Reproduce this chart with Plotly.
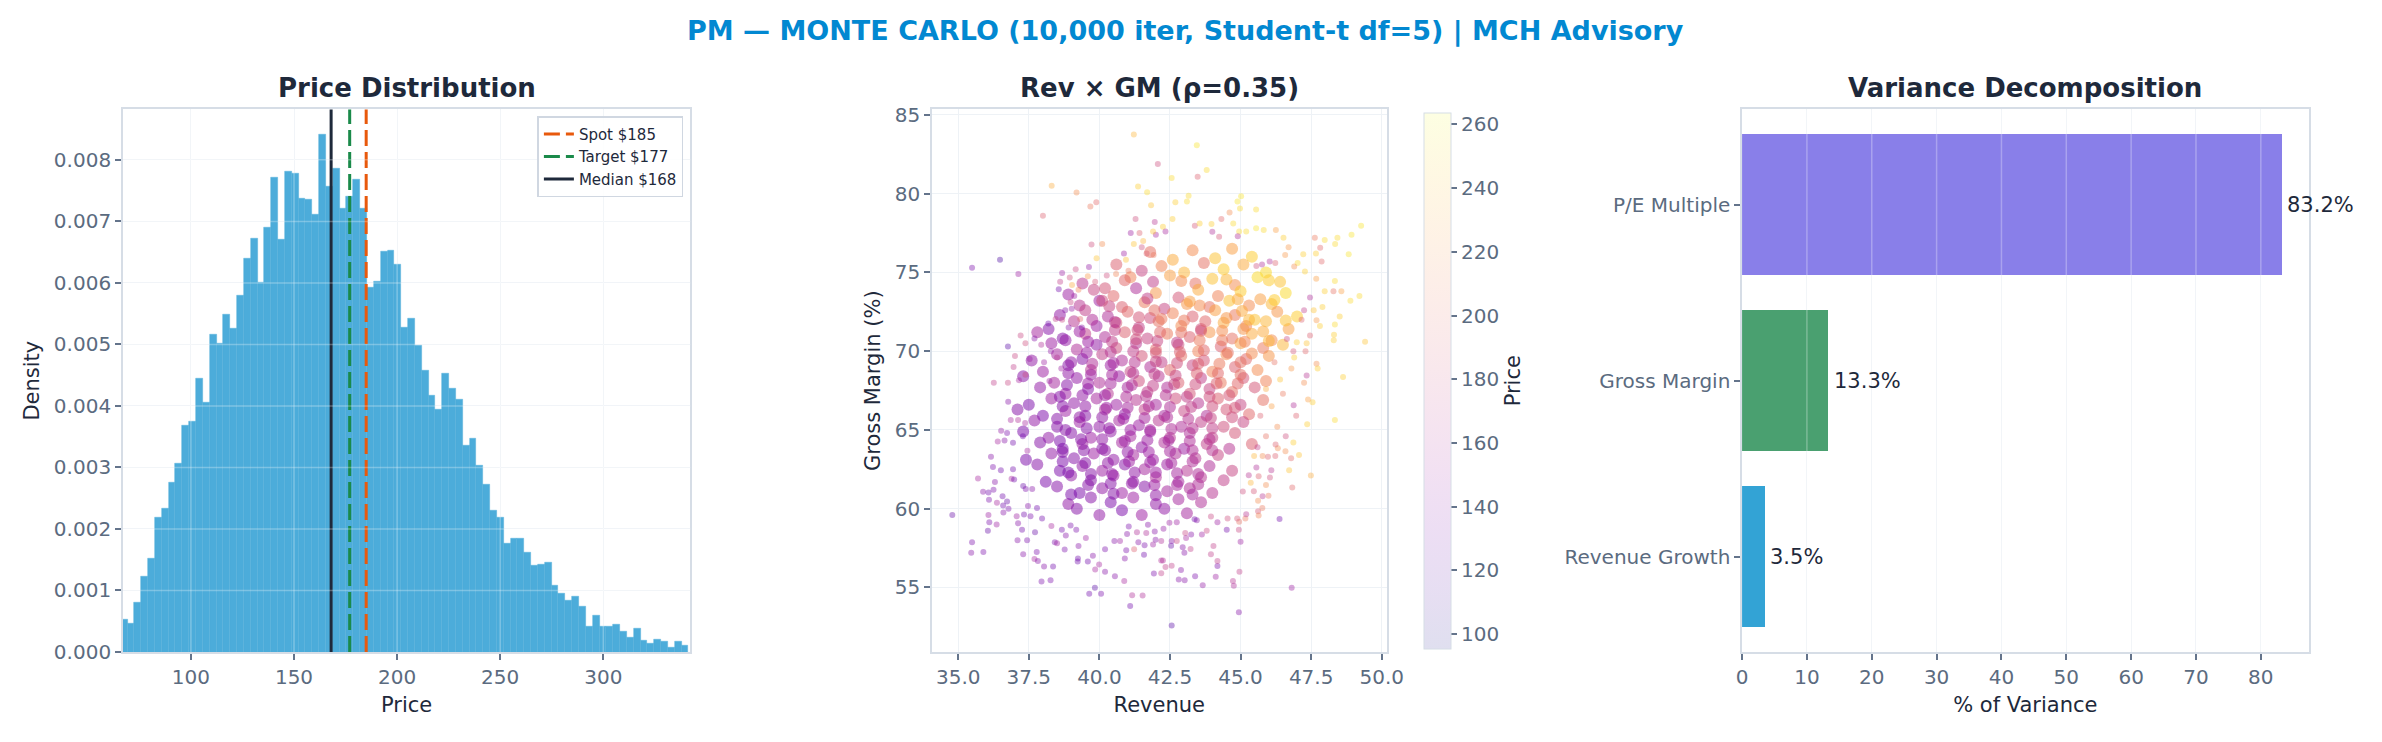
import plotly.graph_objects as go
import plotly.express as px

W, H = 2382, 742

# ---------------- price histogram (density per bin) ----------------
bin_start = 65.91   # left edge of first bin
bin_width = 3.317
density = [
    0.00053, 0.00047, 0.00080, 0.00122, 0.00152, 0.00219, 0.00233, 0.00276, 0.00306, 0.00368,
    0.00374, 0.00444, 0.00405, 0.00516, 0.00501, 0.00549, 0.00526, 0.00579, 0.00640, 0.00673,
    0.00600, 0.00690, 0.00771, 0.00670, 0.00781, 0.00778, 0.00738, 0.00735, 0.00711, 0.00841,
    0.00757, 0.00786, 0.00721, 0.00741, 0.00768, 0.00721, 0.00593, 0.00602, 0.00651, 0.00653,
    0.00630, 0.00528, 0.00543, 0.00498, 0.00458, 0.00417, 0.00394, 0.00452, 0.00428, 0.00411,
    0.00336, 0.00347, 0.00303, 0.00273, 0.00230, 0.00219, 0.00176, 0.00185, 0.00185, 0.00162,
    0.00141, 0.00143, 0.00146, 0.00108, 0.00095, 0.00083, 0.00090, 0.00074, 0.00041, 0.00060,
    0.00041, 0.00041, 0.00044, 0.00033, 0.00023, 0.00038, 0.00018, 0.00014, 0.00020, 0.00017,
    0.00008, 0.00017, 0.00011,
]
price_xlim = [67.0, 342.2]

ref_names = ["Spot $185", "Target $177", "Median $168"]
ref_values = [185, 177, 168]
ref_colors = ["#e8590c", "#1a8a4a", "#1e293b"]
ref_dash = ["16px,6px", "16px,6px", "solid"]

# ---------------- revenue x gross margin scatter (subset) ----------------
# sparse outskirts
revenue_outer = [
    41.22, 42.07, 38.31, 39.19, 39.89, 39.68, 38.0, 41.37, 41.69, 41.83,
    41.28, 41.96, 41.11, 41.42, 42.0, 41.9, 39.72, 40.1, 39.9, 35.49,
    36.48, 37.13, 39.63, 39.16, 38.68, 38.95, 38.61, 38.56, 39.03, 39.26,
    39.59, 39.85, 40.26, 40.59, 40.87, 40.94, 41.03, 41.22, 41.55, 41.5,
    41.67, 41.92, 38.98, 39.11, 38.79, 38.45, 38.19, 38.68, 39.02, 39.32,
    39.38, 38.91, 37.21, 37.70, 37.38, 37.94, 36.76, 37.01, 36.96, 37.38,
    37.53, 36.26, 36.76, 37.15, 38.28, 38.04, 38.5, 38.65, 38.23,
    43.45, 43.48, 43.8, 42.56, 43.16, 42.69, 43.1, 45.02, 44.89, 45.55,
    44.61, 44.32, 44.98, 42.59, 42.25, 42.34, 43.38, 43.55, 43.97, 44.0,
    44.74, 44.95, 44.9, 44.24, 45.2, 45.55, 45.82, 46.25, 46.52, 46.7,
    47.63, 47.98, 48.43, 48.93, 49.27, 47.82, 47.87, 47.67, 48.35, 48.83,
    47.22, 47.02, 46.9, 46.58, 46.23, 46.03, 45.56, 45.76, 47.28, 47.68,
    48.34, 48.57, 48.29, 47.98, 48.89, 49.21, 47.46, 47.25, 47.59, 47.9,
    48.51, 47.16, 47.69, 47.81, 48.34, 48.31, 48.3, 49.41, 47.46, 47.34,
    46.99, 47.3, 46.64, 46.87, 47.69, 47.73, 48.63, 47.34, 47.25,
    48.34, 47.49, 46.83, 46.72, 47.07, 46.79, 46.59, 46.87, 47.36, 47.55,
    47.39, 46.97, 46.88, 46.38, 46.81, 44.94, 42.56, 44.73, 44.76, 44.96,
    43.66, 43.39, 42.81, 43.02, 44.12, 44.18, 44.18, 43.95, 44.04, 45.0,
    42.89, 42.56, 42.34, 42.19, 42.25, 43.01, 43.23, 42.95, 42.54, 42.56,
    42.74, 44.94, 44.51, 44.95, 45.17, 44.88, 45.2, 45.62, 45.77, 45.64,
    43.63, 43.8, 44.18, 44.54, 43.45, 43.37, 43.95, 43.04, 43.07, 43.25,
    42.74, 42.27, 42.48, 45.08, 45.47, 45.78, 45.62, 46.04, 46.09, 45.99,
    45.56, 45.64, 45.9, 45.36, 45.29, 45.48, 45.78, 46.23, 45.97, 46.32,
    46.24, 45.9, 46.3, 45.7, 46.1, 46.5, 45.9, 46.4, 46.8, 46.2,
    46.9, 46.6, 45.6,
    34.79, 35.46, 35.49, 35.89, 36.05, 36.1, 36.07, 36.36, 35.7, 35.88,
    36.07, 36.25, 36.09, 36.3, 36.4, 36.52, 36.64, 36.73, 36.16, 36.23,
    36.51, 36.37, 36.57, 36.59, 36.73, 36.78, 36.6, 36.77, 36.86, 37.12,
    37.37, 37.29, 37.45, 36.94, 36.94, 36.89, 36.98, 37.3, 37.39, 37.62,
    37.47, 37.33, 37.56, 37.07, 37.12, 37.26, 37.1, 37.44, 37.3, 37.7,
    37.82, 37.78, 38.04, 38.36, 37.95, 38.27, 37.79, 37.72, 37.97, 38.3,
    38.42, 38.5, 38.77, 38.67, 38.81, 38.98, 39.18, 39.24, 39.23, 39.59,
    39.26, 39.52, 39.77, 39.99, 39.85, 40.2, 40.55, 40.88, 39.84, 39.64,
    40.06, 41.09, 41.16, 41.53, 40.2, 40.53, 40.73, 40.9, 40.95, 41.23,
    41.38, 41.58, 41.6, 41.9, 41.93, 42.19, 41.99, 42.19, 41.33, 40.98,
    41.04, 41.66, 41.72, 41.96,
]
gm_outer = [
    83.76, 81.89, 80.5, 80.07, 79.45, 79.19, 78.6, 80.46, 80.09, 79.27,
    78.4, 78.2, 77.5, 77.5, 77.4, 77.6, 76.77, 76.8, 75.9, 75.3,
    75.8, 74.9, 75.35, 75.2, 74.96, 74.67, 74.4, 73.93, 74.2, 73.9,
    74.75, 74.4, 74.8, 74.9, 76.2, 75.8, 75.1, 76.8, 77.0, 76.6,
    76.2, 76.1, 73.1, 73.5, 72.6, 72.05, 71.76, 72.0, 72.7, 72.05,
    71.5, 71.5, 71.0, 70.8, 70.5, 70.4, 70.3, 69.7, 69.0, 68.5,
    69.5, 68.0, 68.0, 68.16, 70.0, 69.3, 69.6, 68.9, 68.1,
    83.08, 81.08, 81.5, 81.0, 79.87, 79.45, 79.5, 79.84, 79.5, 79.0,
    78.8, 78.4, 79.06, 78.4, 77.9, 77.6, 77.97, 78.1, 78.07, 77.58,
    78.1, 77.6, 77.3, 77.27, 77.6, 77.8, 77.7, 77.7, 77.2, 76.6,
    77.2, 77.06, 77.2, 77.4, 77.97, 76.57, 75.7, 76.2, 76.8, 76.15,
    76.15, 75.6, 75.37, 76.1, 75.6, 75.7, 75.4, 75.5, 75.06, 74.6,
    74.45, 73.8, 73.8, 73.8, 73.2, 73.5, 73.4, 72.6, 72.6, 72.8,
    72.2, 72.0, 71.97, 71.6, 71.7, 71.04, 70.7, 70.6, 71.0, 70.5,
    70.57, 70.0, 70.77, 70.0, 69.2, 68.9, 68.36, 68.46, 68.0,
    65.63, 62.1, 61.34, 62.43, 63.4, 63.2, 63.65, 64.2, 65.36, 66.76,
    66.93, 65.9, 66.56, 59.34, 54.97, 53.42, 52.58, 55.4, 55.1, 56.0,
    55.13, 55.7, 55.5, 55.46, 55.67, 56.35, 56.68, 57.11, 57.63, 57.9,
    56.1, 56.37, 56.29, 55.9, 56.7, 57.2, 57.44, 57.55, 57.65, 57.94,
    57.94, 58.66, 58.66, 59.17, 59.38, 59.38, 59.65, 59.83, 60.04, 59.57,
    58.35, 58.6, 59.13, 59.38, 59.26, 59.32, 59.5, 58.45, 58.14, 58.35,
    59.13, 58.72, 59.11, 61.09, 61.11, 60.78, 60.5, 61.98, 62.43, 60.82,
    62.62, 62.06, 61.5, 61.65, 62.12, 63.34, 63.34, 63.34, 63.3, 63.83,
    64.08, 64.6, 65.2, 65.9, 66.5, 67.3, 67.6, 68.2, 68.9, 69.3,
    69.6, 64.6, 63.9,
    59.6, 57.2, 57.87, 57.24, 58.6, 59.13, 59.59, 59.0, 61.92, 61.07,
    61.03, 61.2, 60.56, 61.69, 64.27, 64.95, 64.33, 64.8, 63.3, 62.64,
    62.43, 60.37, 60.78, 60.2, 60.45, 60.0, 59.75, 66.78, 65.63, 65.63,
    65.44, 64.6, 63.67, 64.18, 62.5, 61.9, 61.85, 61.44, 61.24, 61.24,
    60.16, 59.63, 59.52, 59.52, 59.07, 58.66, 58.0, 58.0, 57.11, 56.8,
    56.68, 57.24, 56.33, 56.33, 55.38, 55.46, 60.04, 58.5, 59.38, 58.9,
    57.87, 57.8, 57.4, 58.66, 58.29, 58.93, 58.66, 56.84, 56.64, 56.64,
    57.63, 58.14, 57.01, 56.45, 56.14, 56.0, 55.71, 55.4, 54.97, 54.6,
    54.6, 53.82, 54.5, 54.48, 57.42, 57.94, 57.94, 56.84, 57.36, 57.42,
    57.87, 57.07, 57.67, 57.73, 55.88, 56.7, 58.02, 57.94, 58.5, 58.39,
    58.86, 58.45, 58.97, 58.55,
]
price_outer = [
    235, 180, 230, 215, 195, 205, 190, 245, 250, 240,
    180, 165, 150, 190, 155, 240, 180, 215, 240, 135,
    115, 150, 145, 175, 150, 180, 170, 130, 230, 210,
    220, 185, 180, 210, 150, 240, 205, 240, 235, 180,
    190, 205, 175, 150, 140, 170, 130, 175, 145, 195,
    140, 140, 175, 140, 180, 160, 120, 175, 170, 180,
    150, 170, 175, 155, 145, 150, 165, 150, 150,
    255, 190, 250, 250, 250, 245, 250, 255, 255, 250,
    215, 195, 250, 245, 245, 155, 185, 245, 245, 160,
    250, 250, 160, 185, 250, 255, 250, 225, 245, 220,
    205, 250, 250, 255, 255, 195, 195, 245, 250, 255,
    245, 250, 215, 220, 190, 160, 180, 160, 245, 225,
    250, 225, 200, 245, 250, 250, 160, 170, 240, 245,
    245, 190, 220, 245, 250, 245, 245, 240, 190, 240,
    245, 195, 175, 185, 215, 245, 245, 165, 215,
    250, 230, 195, 240, 240, 195, 215, 245, 245, 245,
    225, 190, 160, 130, 150, 140, 120, 165, 160, 170,
    145, 135, 140, 140, 150, 135, 170, 170, 170, 150,
    140, 170, 170, 170, 160, 140, 170, 140, 125, 140,
    175, 175, 130, 200, 205, 185, 165, 185, 205, 210,
    150, 175, 150, 180, 140, 130, 175, 175, 155, 140,
    150, 145, 150, 180, 185, 165, 215, 180, 165, 205,
    160, 190, 215, 235, 165, 235, 215, 190, 190, 215,
    190, 200, 215, 190, 225, 205, 230, 240, 220, 200,
    245, 180, 170,
    125, 140, 135, 135, 125, 135, 150, 150, 155, 140,
    130, 135, 135, 140, 155, 145, 140, 135, 140, 135,
    130, 155, 130, 130, 125, 135, 140, 140, 155, 160,
    155, 130, 155, 130, 130, 155, 130, 125, 135, 140,
    140, 130, 135, 150, 140, 130, 140, 135, 140, 155,
    140, 135, 140, 130, 135, 135, 130, 125, 130, 155,
    135, 150, 135, 130, 140, 135, 135, 130, 130, 130,
    140, 150, 140, 155, 155, 140, 140, 155, 120, 130,
    135, 130, 160, 160, 135, 140, 150, 140, 135, 190,
    140, 130, 135, 150, 135, 160, 140, 160, 160, 140,
    135, 160, 140, 140,
]

# dense core (each point stands for a clump of overlapping samples)
revenue_core = [
    41.8, 42.6, 43.3, 44.1, 44.7, 45.4,
    40.6, 41.5, 42.2, 43.0, 43.7, 44.4, 45.1, 45.9,
    39.4, 40.2, 41.1, 41.9, 42.5, 43.4, 44.0, 44.8, 45.6, 46.4,
    38.9, 39.8, 40.5, 41.3, 42.0, 42.8, 43.5, 44.2, 45.0, 45.7, 46.6,
    39.3, 40.0, 40.8, 41.6, 42.3, 43.1, 43.9, 44.6, 45.3, 46.1,
    38.6, 39.5, 40.3, 41.0, 41.8, 42.6, 43.3, 44.1, 44.8, 45.5, 46.3, 47.0,
    38.2, 39.1, 39.9, 40.6, 41.4, 42.1, 42.9, 43.6, 44.4, 45.2, 45.9, 46.7,
    37.8, 38.7, 39.5, 40.2, 40.9, 41.7, 42.4, 43.2, 43.9, 44.7, 45.4, 46.1,
    38.3, 39.2, 39.9, 40.6, 41.3, 42.0, 42.8, 43.5, 44.3, 45.0, 45.8, 46.5,
    37.6, 38.5, 39.4, 40.1, 40.8, 41.5, 42.2, 42.9, 43.7, 44.5, 45.2, 46.0,
    38.0, 38.9, 39.7, 40.4, 41.1, 41.8, 42.5, 43.3, 44.0, 44.8, 45.6,
    37.3, 38.4, 39.2, 40.0, 40.7, 41.4, 42.1, 42.8, 43.6, 44.3, 45.1, 45.9,
    37.9, 38.8, 39.6, 40.3, 41.0, 41.7, 42.4, 43.2, 43.9, 44.7, 45.5,
    37.5, 38.3, 39.1, 39.9, 40.6, 41.3, 42.0, 42.7, 43.5, 44.2, 45.0, 45.8,
    37.1, 38.0, 38.8, 39.5, 40.2, 40.9, 41.6, 42.3, 43.0, 43.8, 44.5, 45.3,
    37.7, 38.5, 39.3, 40.0, 40.7, 41.4, 42.1, 42.9, 43.6, 44.4, 45.1,
    37.3, 38.2, 39.0, 39.7, 40.4, 41.1, 41.8, 42.5, 43.2, 44.0, 44.8,
    37.9, 38.7, 39.4, 40.1, 40.8, 41.5, 42.3, 43.0, 43.8, 44.6, 45.4,
    37.4, 38.3, 39.1, 39.8, 40.5, 41.2, 41.9, 42.7, 43.4, 44.2,
    37.8, 38.6, 39.4, 40.1, 40.9, 41.6, 42.4, 43.1, 43.9, 44.7,
    38.1, 39.0, 39.7, 40.5, 41.2, 42.0, 42.8, 43.6, 44.4,
    38.5, 39.3, 40.1, 40.8, 41.6, 42.4, 43.2, 44.0,
    38.9, 39.7, 40.4, 41.2, 42.0, 42.8, 43.6,
    39.2, 40.0, 40.8, 41.5, 42.3, 43.1,
    40.35, 41.95, 43.55, 45.05,
    39.75, 41.4, 43.0, 44.5,
    40.55, 42.15, 43.6, 45.1,
    39.6, 41.3, 42.75, 44.35,
    40.4, 42.0, 43.7, 45.4,
    39.0, 40.5, 42.0, 43.5, 45.0,
    39.7, 41.2, 42.7, 44.2,
    38.85, 40.4, 41.9, 43.4, 44.9,
    39.4, 40.95, 42.35, 43.9,
    38.7, 40.25, 41.75, 43.25, 44.8,
    39.3, 40.85, 42.4, 43.95,
    38.8, 40.35, 41.8, 43.3,
    39.35, 40.9, 42.45, 43.9,
    38.7, 40.2, 41.75, 43.3,
    39.5, 41.05, 42.55,
    38.9, 40.45, 42.0, 43.5,
    39.6, 41.15, 42.75,
    40.1, 41.7, 43.2, 44.9, 46.2,
    40.55, 42.2, 43.75, 45.3, 46.6,
    39.3, 41.35, 42.9, 44.35, 45.8,
    38.8, 40.45, 42.05, 43.55, 45.15, 46.0,
    39.55, 41.2, 42.85, 44.55,
    39.75, 41.25, 42.75, 44.25,
    38.9, 40.45, 41.95, 43.45, 45.0,
    39.6, 41.15, 42.65, 44.15,
    38.6, 40.2, 41.65, 43.1, 44.6,
    39.5, 41.0, 42.5, 44.0,
    38.5, 40.1, 41.6, 43.15, 44.7,
    39.55, 41.1, 42.55, 44.0,
    38.6, 40.1, 41.7, 43.2,
    39.45, 41.0, 42.5, 44.0,
    38.7, 40.3, 41.8, 43.3,
    39.7, 41.25, 42.75,
    40.4, 41.95, 43.5,
    39.0, 40.5, 42.0, 43.3,
    40.9, 42.9, 44.5, 46.0,
]
gm_core = [
    76.3, 75.8, 76.4, 75.9, 76.5, 76.0,
    75.5, 75.1, 75.4, 75.0, 75.6, 75.2, 75.5, 75.0,
    74.3, 74.0, 74.7, 74.4, 74.8, 74.3, 74.6, 74.2, 74.7, 74.4,
    73.6, 73.9, 73.5, 74.0, 73.7, 73.4, 73.9, 73.5, 73.8, 73.3, 73.7,
    72.9, 73.2, 72.8, 73.1, 72.7, 73.0, 72.8, 73.2, 72.9, 73.0,
    72.3, 72.6, 72.2, 72.5, 72.1, 72.4, 72.2, 72.6, 72.3, 72.0, 72.5, 72.2,
    71.4, 71.9, 71.6, 71.8, 71.5, 71.9, 71.6, 71.4, 71.8, 71.6, 71.9, 71.4,
    71.2, 70.8, 71.1, 70.9, 71.2, 70.8, 71.1, 70.9, 71.2, 70.8, 71.1, 70.7,
    70.5, 70.1, 70.4, 70.2, 70.5, 70.1, 70.4, 70.0, 70.3, 70.5, 70.2, 70.4,
    69.4, 69.8, 69.5, 69.8, 69.4, 69.7, 69.3, 69.7, 69.4, 69.8, 69.5, 69.7,
    68.7, 69.1, 68.8, 69.1, 68.7, 69.0, 68.8, 69.1, 68.7, 69.0, 68.8,
    68.4, 68.0, 68.3, 68.0, 68.4, 68.1, 68.4, 68.0, 68.3, 68.0, 68.3, 68.1,
    67.7, 67.3, 67.6, 67.3, 67.7, 67.4, 67.7, 67.3, 67.6, 67.4, 67.7,
    66.6, 67.0, 66.7, 67.0, 66.6, 66.9, 66.6, 67.0, 66.7, 67.0, 66.6, 66.9,
    66.3, 65.9, 66.2, 65.9, 66.3, 66.0, 66.3, 65.9, 66.2, 65.9, 66.3, 66.0,
    65.6, 65.2, 65.5, 65.2, 65.6, 65.3, 65.6, 65.2, 65.5, 65.2, 65.5,
    64.9, 64.5, 64.8, 64.5, 64.9, 64.6, 64.9, 64.5, 64.8, 64.5, 64.8,
    64.2, 63.8, 64.1, 63.8, 64.2, 63.9, 64.2, 63.8, 64.1, 63.8, 64.1,
    63.1, 63.5, 63.2, 63.5, 63.1, 63.4, 63.1, 63.5, 63.2, 63.4,
    62.8, 62.4, 62.7, 62.4, 62.8, 62.5, 62.8, 62.4, 62.7, 62.4,
    61.7, 62.1, 61.8, 62.1, 61.7, 62.0, 61.7, 62.0, 61.8,
    61.4, 61.0, 61.3, 61.0, 61.4, 61.1, 61.3, 61.0,
    60.3, 60.7, 60.4, 60.7, 60.3, 60.6, 60.4,
    60.0, 59.6, 59.9, 59.6, 60.0, 59.7,
    72.85, 72.6, 72.9, 72.55,
    72.0, 72.15, 71.95, 72.1,
    71.35, 71.2, 71.3, 71.4,
    70.6, 70.75, 70.55, 70.7,
    69.95, 69.9, 70.05, 69.85,
    69.3, 69.25, 69.35, 69.2, 69.3,
    68.5, 68.6, 68.45, 68.6,
    67.85, 67.95, 67.8, 67.9, 67.95,
    67.2, 67.1, 67.2, 67.1,
    66.5, 66.4, 66.5, 66.45, 66.4,
    65.8, 65.7, 65.8, 65.75,
    65.0, 65.1, 65.0, 65.1,
    64.4, 64.3, 64.35, 64.4,
    63.6, 63.7, 63.6, 63.7,
    62.9, 63.0, 62.9,
    62.3, 62.2, 62.3, 62.2,
    61.5, 61.6, 61.5,
    73.2, 73.35, 73.15, 73.3, 73.25,
    71.85, 72.05, 71.9, 72.0, 71.95,
    71.25, 71.35, 71.2, 71.3, 71.25,
    70.7, 70.6, 70.65, 70.7, 70.6, 70.65,
    69.9, 70.0, 69.95, 69.9,
    69.2, 69.3, 69.25, 69.2,
    68.6, 68.5, 68.55, 68.6, 68.5,
    67.95, 67.85, 67.9, 67.95,
    67.1, 67.2, 67.15, 67.1, 67.2,
    66.5, 66.4, 66.45, 66.5,
    65.7, 65.8, 65.75, 65.7, 65.8,
    65.1, 65.0, 65.05, 65.1,
    64.3, 64.4, 64.35, 64.3,
    63.7, 63.6, 63.65, 63.7,
    63.0, 62.9, 62.95, 63.0,
    62.2, 62.3, 62.25,
    61.6, 61.5, 61.55,
    60.9, 60.95, 60.85, 60.9,
    74.5, 74.45, 74.55, 74.5,
]
price_core = [
    200, 230, 215, 240, 225, 245,
    190, 175, 210, 235, 200, 245, 230, 250,
    165, 185, 210, 170, 225, 200, 240, 215, 250, 240,
    150, 175, 195, 160, 220, 185, 230, 210, 245, 225, 250,
    165, 150, 190, 205, 175, 220, 200, 240, 215, 235,
    145, 170, 160, 195, 180, 210, 190, 225, 205, 240, 220, 245,
    140, 165, 150, 185, 170, 200, 215, 180, 230, 210, 235, 225,
    155, 140, 170, 160, 190, 175, 205, 190, 220, 200, 230, 215,
    150, 160, 145, 180, 165, 195, 180, 210, 190, 225, 205, 235,
    145, 155, 140, 170, 160, 185, 170, 200, 185, 215, 195, 220,
    150, 140, 165, 150, 175, 160, 195, 175, 210, 190, 215,
    140, 155, 145, 160, 150, 180, 165, 190, 170, 205, 185, 210,
    145, 150, 140, 165, 155, 170, 160, 185, 175, 200, 185,
    135, 150, 145, 155, 150, 165, 155, 180, 165, 190, 175, 200,
    140, 135, 150, 140, 160, 145, 170, 155, 175, 160, 185, 195,
    145, 140, 150, 145, 155, 150, 165, 160, 170, 180, 175,
    135, 145, 140, 150, 145, 155, 150, 165, 160, 170, 185,
    140, 135, 150, 140, 155, 145, 160, 150, 170, 165, 190,
    135, 145, 140, 150, 145, 155, 150, 160, 165, 175,
    140, 135, 145, 150, 140, 155, 150, 165, 160, 175,
    135, 145, 140, 150, 145, 160, 155, 165, 170,
    140, 135, 145, 150, 140, 155, 160, 165,
    145, 140, 135, 150, 145, 155, 160,
    140, 145, 135, 150, 145, 155,
    175, 200, 215, 230,
    160, 185, 205, 220,
    170, 195, 185, 220,
    150, 180, 170, 205,
    165, 185, 195, 215,
    145, 155, 175, 190, 200,
    150, 165, 175, 195,
    140, 155, 170, 180, 195,
    145, 160, 165, 180,
    140, 150, 160, 170, 185,
    145, 150, 160, 175,
    140, 145, 155, 165,
    140, 150, 155, 165,
    140, 145, 150, 160,
    140, 150, 155,
    135, 145, 150, 160,
    140, 145, 155,
    180, 170, 225, 230, 245,
    165, 205, 195, 235, 240,
    150, 180, 200, 215, 230,
    145, 170, 175, 205, 210, 235,
    150, 170, 190, 200,
    160, 165, 180, 205,
    145, 155, 170, 190, 200,
    150, 160, 175, 190,
    140, 150, 165, 170, 185,
    145, 155, 160, 180,
    140, 145, 155, 165, 180,
    140, 150, 160, 170,
    135, 145, 150, 160,
    140, 145, 155, 165,
    135, 145, 150, 160,
    140, 145, 155,
    140, 150, 160,
    135, 140, 145, 155,
    195, 215, 235, 245,
]
price_color_range = [95.4, 263.7]

# ---------------- variance decomposition ----------------
drivers = ["Revenue Growth", "Gross Margin", "P/E Multiple"]
variance_share = [3.5, 13.3, 83.2]
driver_colors = ["#33a3d5", "#4aa070", "#897fe9"]

# ---------------- styling ----------------
FONT = "DejaVu Sans"
NAVY = "#1e293b"
TICK_TXT = "#5b6b80"
SPINE = "#d6dde6"
GRID = "#eef2f6"


def rgba(hex_color, a):
    h = hex_color.lstrip("#")
    r, g, b = int(h[0:2], 16), int(h[2:4], 16), int(h[4:6], 16)
    return f"rgba({r},{g},{b},{a})"


plasma = px.colors.sequential.Plasma
n = len(plasma) - 1
outer_scale = [[i / n, rgba(c, 0.38)] for i, c in enumerate(plasma)]
core_scale = [[i / n, rgba(c, 0.5)] for i, c in enumerate(plasma)]
bar_scale = [[i / n, rgba(c, 0.13)] for i, c in enumerate(plasma)]

axis_style = dict(
    showline=True, mirror=True, linecolor=SPINE, linewidth=1.5,
    ticks="outside", ticklen=6, tickwidth=1.5, tickcolor="#64748b",
    tickfont=dict(family=FONT, size=20, color=TICK_TXT),
    showgrid=True, gridcolor=GRID, gridwidth=1, zeroline=False,
    title_font=dict(family=FONT, size=21, color=NAVY),
)

y0, y1 = 1 - 662 / H, 1 - 106 / H
dom_hist = [118 / W, 691 / W]
dom_scat = [935 / W, 1394 / W]
dom_bar = [1753 / W, 2325 / W]

fig = go.Figure()

# histogram
centers = [bin_start + bin_width * (i + 0.5) for i in range(len(density))]
fig.add_trace(go.Bar(
    x=centers, y=density, width=bin_width,
    marker=dict(color="#4cacda", line=dict(width=0.4, color="#4cacda")),
    showlegend=False, xaxis="x", yaxis="y", hoverinfo="skip",
))

# scatter
cmin, cmax = price_color_range
fig.add_trace(go.Scatter(
    x=revenue_core, y=gm_core, mode="markers",
    marker=dict(size=12, color=price_core, colorscale=core_scale,
                cmin=cmin, cmax=cmax, line=dict(width=0), showscale=False),
    showlegend=False, xaxis="x2", yaxis="y2", hoverinfo="skip",
))
fig.add_trace(go.Scatter(
    x=revenue_outer, y=gm_outer, mode="markers",
    marker=dict(size=6, color=price_outer, colorscale=outer_scale,
                cmin=cmin, cmax=cmax, line=dict(width=0), showscale=False),
    showlegend=False, xaxis="x2", yaxis="y2", hoverinfo="skip",
))
# invisible carrier for the faint colour bar
fig.add_trace(go.Scatter(
    x=revenue_outer, y=gm_outer, mode="markers",
    marker=dict(size=6, color=price_outer, colorscale=bar_scale, opacity=0,
                cmin=cmin, cmax=cmax, showscale=True,
                colorbar=dict(
                    x=1422 / W, xanchor="left", y=(y0 + y1) / 2, yanchor="middle",
                    thickness=27, thicknessmode="pixels",
                    len=556, lenmode="pixels",
                    outlinewidth=1, outlinecolor=SPINE,
                    tick0=0, dtick=20, ticks="outside", ticklen=6, tickwidth=1.5,
                    tickcolor="#64748b",
                    tickfont=dict(family=FONT, size=20, color=TICK_TXT),
                    title=dict(text="Price", side="right",
                               font=dict(family=FONT, size=21, color=NAVY)),
                )),
    showlegend=False, xaxis="x2", yaxis="y2", hoverinfo="skip",
))

# variance bars
fig.add_trace(go.Bar(
    y=drivers, x=variance_share, orientation="h", width=0.8,
    marker=dict(color=driver_colors, line=dict(width=0)),
    showlegend=False, xaxis="x3", yaxis="y3", hoverinfo="skip",
))

# reference lines in the histogram (shapes with legend entries)
for name, v, c, d in zip(ref_names, ref_values, ref_colors, ref_dash):
    fig.add_shape(
        type="line", xref="x", yref="y domain", x0=v, x1=v, y0=0, y1=1,
        line=dict(color=c, width=3, dash=d),
        showlegend=True, name=name, layer="above",
    )

# light grid drawn over the bars (matplotlib draws grid above patches)
for t in [0.001 * k for k in range(1, 9)]:
    fig.add_shape(type="line", xref="x domain", yref="y", x0=0, x1=1, y0=t, y1=t,
                  line=dict(color="rgba(255,255,255,0.28)", width=1.5), layer="above")
for t in [100, 150, 200, 250, 300]:
    fig.add_shape(type="line", xref="x", yref="y domain", x0=t, x1=t, y0=0, y1=1,
                  line=dict(color="rgba(255,255,255,0.28)", width=1.5), layer="above")
for t in range(10, 90, 10):
    fig.add_shape(type="line", xref="x3", yref="y3 domain", x0=t, x1=t, y0=0, y1=1,
                  line=dict(color="rgba(255,255,255,0.28)", width=1.5), layer="above")

# bar value labels
annotations = []
for d, v in zip(drivers, variance_share):
    annotations.append(dict(
        x=v + 0.5, y=d, xref="x3", yref="y3", text=f"{v:.1f}%",
        showarrow=False, xanchor="left", yanchor="middle",
        font=dict(family=FONT, size=21, color=NAVY),
    ))

# titles
for text, dom in [("Price Distribution", dom_hist),
                  ("Rev × GM (ρ=0.35)", dom_scat),
                  ("Variance Decomposition", dom_bar)]:
    annotations.append(dict(
        x=(dom[0] + dom[1]) / 2, y=1 - 84 / H, xref="paper", yref="paper",
        text=text, showarrow=False, xanchor="center", yanchor="middle",
        font=dict(family=FONT, size=26, color=NAVY, weight="bold"),
    ))
annotations.append(dict(
    x=0.5, y=1 - 26 / H, xref="paper", yref="paper",
    text="PM — MONTE CARLO (10,000 iter, Student-t df=5) | MCH Advisory",
    showarrow=False, xanchor="center", yanchor="middle",
    font=dict(family=FONT, size=27, color="#0288d1", weight="bold"),
))

fig.update_layout(
    width=W, height=H, autosize=False,
    margin=dict(l=0, r=0, t=0, b=0),
    paper_bgcolor="white", plot_bgcolor="white",
    font=dict(family=FONT, color=NAVY),
    bargap=0,
    xaxis=dict(axis_style, domain=dom_hist, anchor="y", range=price_xlim,
               tick0=0, dtick=50, title=dict(text="Price", standoff=10)),
    yaxis=dict(axis_style, domain=[y0, y1], anchor="x", range=[0, 0.00882],
               tick0=0, dtick=0.001, tickformat=".3f",
               title=dict(text="Density", standoff=8)),
    xaxis2=dict(axis_style, domain=dom_scat, anchor="y2", range=[34.07, 50.17],
                tick0=35, dtick=2.5, tickformat=".1f",
                title=dict(text="Revenue", standoff=10)),
    yaxis2=dict(axis_style, domain=[y0, y1], anchor="x2", range=[50.9, 85.35],
                tick0=55, dtick=5, title=dict(text="Gross Margin (%)", standoff=8)),
    xaxis3=dict(axis_style, domain=dom_bar, anchor="y3", range=[0, 87.36],
                tick0=0, dtick=10, title=dict(text="% of Variance", standoff=10)),
    yaxis3=dict(axis_style, domain=[y0, y1], anchor="x3", range=[-0.54, 2.54],
                type="category", categoryorder="array", categoryarray=drivers,
                showgrid=False),
    legend=dict(
        x=684 / W, y=1 - 113 / H, xanchor="right", yanchor="top",
        bgcolor="rgba(255,255,255,0.85)", bordercolor="#d0d7e1", borderwidth=1.5,
        font=dict(family=FONT, size=15, color=NAVY),
        tracegroupgap=2, itemwidth=30,
    ),
    annotations=annotations,
)

# page body margin off so the figure sits at the window origin; no mode bar
fig.write_html("out.html", config={"displayModeBar": False},
               post_script="document.body.style.margin='0';")
